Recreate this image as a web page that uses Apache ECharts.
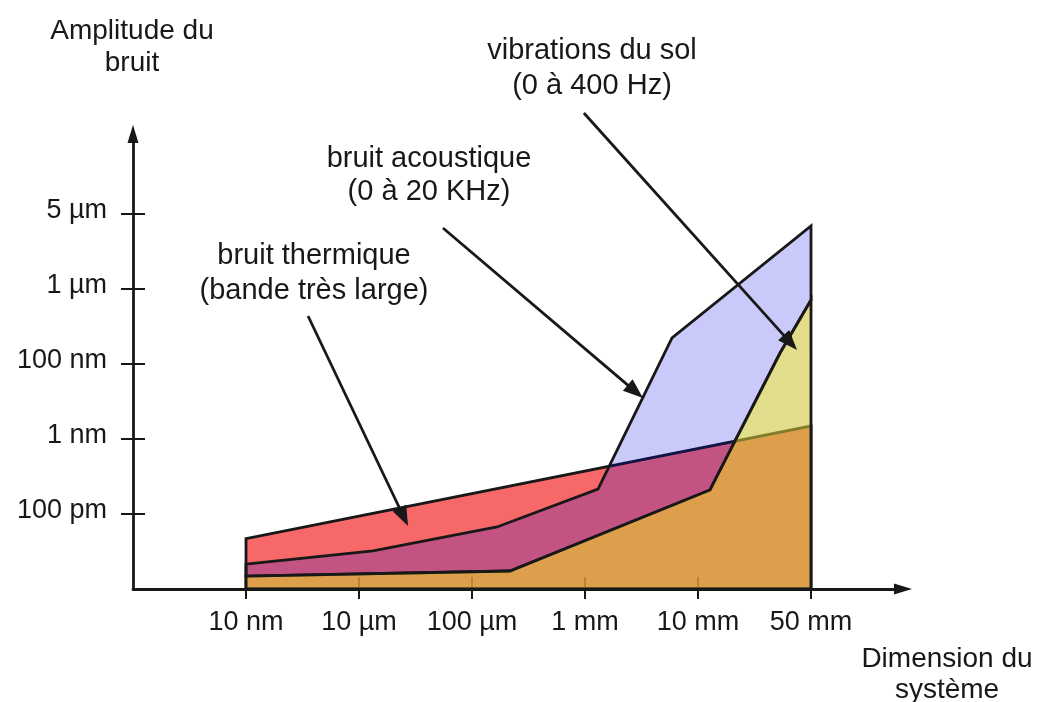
<!DOCTYPE html>
<html>
<head>
<meta charset="utf-8">
<script src="https://cdn.jsdelivr.net/npm/echarts@6/dist/echarts.min.js"></script>
<style>
  html, body { margin: 0; padding: 0; background: #ffffff; }
  #chart { width: 1044px; height: 702px; }
</style>
</head>
<body>
<div id="chart"></div>
<script>
// Size of the system (x) — schematic, one step per tick
const sizeTicks = [0, 1, 2, 3, 4, 5];
const sizeLabels = ['10 nm', '10 µm', '100 µm', '1 mm', '10 mm', '50 mm'];

// Noise amplitude (y) — schematic, one step per tick
const amplitudeTicks = [1, 2, 3, 4, 5];
const amplitudeLabels = ['100 pm', '1 nm', '100 nm', '1 µm', '5 µm'];

// Thermal noise: region under a straight upper bound
const thermiqueHaut = [[0, 0.673], [5, 2.173]];

// Acoustic noise: upper bound of the band
const acoustiqueHaut = [[0, 0.333], [1.124, 0.507], [2.221, 0.827], [3.115, 1.333], [3.77, 3.347], [5, 4.84]];

// Ground vibrations: upper bound (also the lower bound of the acoustic band)
const solHaut = [[0, 0.173], [2.336, 0.24], [4.106, 1.32], [4.726, 3.147], [5, 3.853]];

// Annotation arrows: [x start, y start, x tip, y tip]
const fleches = [
  [0.549, 3.64, 1.434, 0.84],
  [1.743, 4.813, 3.513, 2.547],
  [2.99, 6.347, 4.876, 3.187]
];

const FONT = '"Liberation Sans", Arial, Helvetica, sans-serif';
const INK = '#181818';

const zoneThermique = [[0, 0]].concat(thermiqueHaut, [[5, 0]]);
const zoneAcoustique = acoustiqueHaut.concat(solHaut.slice().reverse());
const zoneSol = [[0, 0]].concat(solHaut, [[5, 0]]);

function zone(name, pts, fill, z) {
  return {
    name: name,
    type: 'custom',
    coordinateSystem: 'cartesian2d',
    xAxisIndex: 0,
    yAxisIndex: 0,
    silent: true,
    clip: false,
    z: z,
    data: [[0, 0]],
    renderItem: function (params, api) {
      return {
        type: 'polygon',
        shape: { points: pts.map(function (p) { return api.coord(p); }) },
        style: { fill: fill, stroke: INK, lineWidth: 2.8, lineJoin: 'miter' }
      };
    }
  };
}

const chart = echarts.init(document.getElementById('chart'), null, { renderer: 'canvas' });

const xCommon = { type: 'value', min: -1, max: 5.814, interval: 1, position: 'bottom', splitLine: { show: false } };
const yCommon = { type: 'value', min: 0, max: 6.067, interval: 1, position: 'left', splitLine: { show: false } };

chart.setOption({
  animation: false,
  backgroundColor: '#ffffff',
  grid: { left: 133, right: 141, top: 134, bottom: 113, containLabel: false },
  xAxis: [
    Object.assign({}, xCommon, {
      axisLine: { show: true, onZero: false, symbol: ['none', 'triangle'], symbolSize: [11, 18],
        lineStyle: { color: INK, width: 2.8 } },
      axisTick: { show: true, customValues: sizeTicks, length: 10, lineStyle: { color: INK, width: 2 } },
      axisLabel: { show: true, customValues: sizeTicks, margin: 20, color: INK, fontSize: 27, fontFamily: FONT,
        formatter: function (v) { return sizeLabels[Math.round(v)] || ''; } }
    }),
    Object.assign({}, xCommon, {
      axisLine: { show: false, onZero: false },
      axisTick: { show: true, inside: true, customValues: sizeTicks, length: 12, lineStyle: { color: INK, width: 2 } },
      axisLabel: { show: false }
    })
  ],
  yAxis: [
    Object.assign({}, yCommon, {
      axisLine: { show: true, onZero: false, symbol: ['none', 'triangle'], symbolSize: [11, 18],
        lineStyle: { color: INK, width: 2.8 } },
      axisTick: { show: true, customValues: amplitudeTicks, length: 12, lineStyle: { color: INK, width: 2 } },
      axisLabel: { show: true, customValues: amplitudeTicks, margin: 26, color: INK, fontSize: 27, fontFamily: FONT,
        verticalAlign: 'bottom', lineHeight: 7,
        formatter: function (v) { return amplitudeLabels[Math.round(v) - 1] || ''; } }
    }),
    Object.assign({}, yCommon, {
      axisLine: { show: false, onZero: false },
      axisTick: { show: true, inside: true, customValues: amplitudeTicks, length: 12, lineStyle: { color: INK, width: 2 } },
      axisLabel: { show: false }
    })
  ],
  graphic: [
    { type: 'text', x: 132, y: 47, style: { text: 'Amplitude du\nbruit', align: 'center', verticalAlign: 'middle',
        font: '28px ' + FONT, lineHeight: 32, fill: INK } },
    { type: 'text', x: 947, y: 675, style: { text: 'Dimension du\nsystème', align: 'center', verticalAlign: 'middle',
        font: '28px ' + FONT, lineHeight: 31, fill: INK } },
    { type: 'text', x: 314, y: 273, style: { text: 'bruit thermique\n(bande très large)', align: 'center', verticalAlign: 'middle',
        font: '29px ' + FONT, lineHeight: 35, fill: INK } },
    { type: 'text', x: 429, y: 175, style: { text: 'bruit acoustique\n(0 à 20 KHz)', align: 'center', verticalAlign: 'middle',
        font: '29px ' + FONT, lineHeight: 33, fill: INK } },
    { type: 'text', x: 592, y: 68, style: { text: 'vibrations du sol\n(0 à 400 Hz)', align: 'center', verticalAlign: 'middle',
        font: '29px ' + FONT, lineHeight: 35, fill: INK } }
  ],
  series: [
    zone('bruit thermique', zoneThermique, 'rgba(244,42,42,0.7)', 2),
    zone('bruit acoustique', zoneAcoustique, 'rgba(5,5,232,0.21)', 3),
    zone('vibrations du sol', zoneSol, 'rgba(204,198,57,0.59)', 4),
    {
      name: 'annotations',
      type: 'custom',
      coordinateSystem: 'cartesian2d',
      silent: true,
      clip: false,
      z: 6,
      encode: { x: [0, 2], y: [1, 3] },
      data: fleches,
      renderItem: function (params, api) {
        const a = api.coord([api.value(0), api.value(1)]);
        const b = api.coord([api.value(2), api.value(3)]);
        const ang = Math.atan2(b[1] - a[1], b[0] - a[0]);
        const L = 20, W = 7.5;
        const base = [b[0] - L * Math.cos(ang), b[1] - L * Math.sin(ang)];
        const p1 = [base[0] + W * Math.sin(ang), base[1] - W * Math.cos(ang)];
        const p2 = [base[0] - W * Math.sin(ang), base[1] + W * Math.cos(ang)];
        return {
          type: 'group',
          children: [
            { type: 'line', shape: { x1: a[0], y1: a[1], x2: base[0] + 2 * Math.cos(ang), y2: base[1] + 2 * Math.sin(ang) },
              style: { stroke: INK, lineWidth: 2.8 } },
            { type: 'polygon', shape: { points: [b, p1, p2] }, style: { fill: INK } }
          ]
        };
      }
    }
  ]
});
</script>
</body>
</html>
